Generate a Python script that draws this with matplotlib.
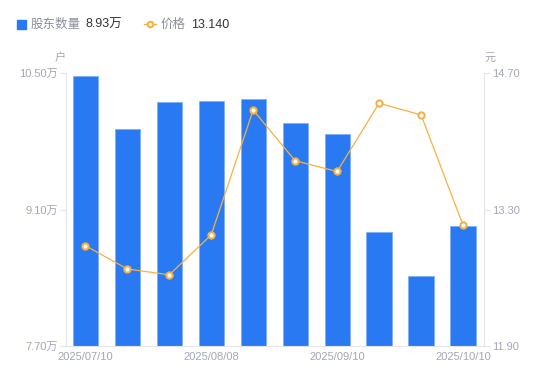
import matplotlib
matplotlib.use('Agg')
import matplotlib.pyplot as plt
from matplotlib.lines import Line2D

plt.rcParams['font.family'] = ['Liberation Sans', 'Noto Sans CJK SC', 'DejaVu Sans']

# ── Data ─────────────────────────────────────────────────────────────
dates   = ["2025/07/10", "2025/07/20", "2025/07/31", "2025/08/08", "2025/08/20",
           "2025/08/29", "2025/09/10", "2025/09/19", "2025/09/30", "2025/10/10"]
holders = [10.47, 9.93, 10.20, 10.21, 10.23, 9.99, 9.87, 8.87, 8.42, 8.93]   # 万户
price   = [12.93, 12.69, 12.63, 13.04, 14.32, 13.80, 13.69, 14.39, 14.27, 13.14]
shown_ticks = [0, 3, 6, 9]

bar_c   = "#2979f2"
line_c  = "#f6b23d"
grey    = "#a3a6b4"
spine_c = "#e3e5ea"

fig = plt.figure(figsize=(5.5, 3.81), dpi=100)
ax = fig.add_axes([66/550, 1-346/381, 418/550, 273/381])
ax2 = ax.twinx()

x = list(range(len(dates)))
ax.bar(x, holders, width=0.6, color=bar_c, edgecolor="#7fb0fa", linewidth=0.6, zorder=2)
ax.set_ylim(7.70, 10.50)
ax.set_xlim(-0.46, len(dates) - 0.5)
ax.set_yticks([7.70, 9.10, 10.50])
ax.set_yticklabels([f"{v:.2f}万" for v in [7.70, 9.10, 10.50]])
ax.set_xticks([x[i] for i in shown_ticks])
ax.set_xticklabels([dates[i] for i in shown_ticks])

ax2.plot(x, price, color=line_c, linewidth=0.9, marker="o", markersize=4.5,
         markerfacecolor="white", markeredgecolor=line_c, markeredgewidth=1.5, zorder=3)
ax2.set_ylim(11.90, 14.70)
ax2.set_yticks([11.90, 13.30, 14.70])
ax2.set_yticklabels([f"{v:.2f}" for v in [11.90, 13.30, 14.70]])

for a in (ax, ax2):
    for s in a.spines.values():
        s.set_visible(False)
    a.tick_params(colors=spine_c, labelcolor=grey, labelsize=8, length=4, width=0.8)
ax.spines["left"].set_visible(True)
ax.spines["bottom"].set_visible(True)
ax2.spines["right"].set_visible(True)
ax.spines["left"].set_color(spine_c)
ax.spines["bottom"].set_color(spine_c)
ax2.spines["right"].set_color(spine_c)
ax.tick_params(axis="x", length=0, pad=4)
ax.tick_params(axis="y", pad=2)
ax2.tick_params(axis="y", pad=2)

# unit labels
fig.text(60/550, 1-61/381, "户", color=grey, fontsize=8, ha="center", va="baseline")
fig.text(490/550, 1-61/381, "元", color=grey, fontsize=8, ha="center", va="baseline")

# legend row
ly = 1 - 28/381
fig.patches.append(plt.Rectangle((17/550, 1-29/381), 9/550, 9/381, transform=fig.transFigure,
                                 color=bar_c, figure=fig))
fig.text(31/550, ly, "股东数量", color="#8c8f9c", fontsize=9, va="baseline")
fig.text(85/550, ly, f"{holders[-1]:.2f}万", color="#333333", fontsize=9, va="baseline")
fig.lines.append(Line2D([144/550, 156/550], [1-24/381, 1-24/381], transform=fig.transFigure,
                        color=line_c, linewidth=1, figure=fig))
fig.lines.append(Line2D([150/550], [1-24/381], transform=fig.transFigure, color=line_c,
                        marker="o", markersize=4, markerfacecolor="white",
                        markeredgewidth=1.5, figure=fig))
fig.text(161/550, ly, "价格", color="#8c8f9c", fontsize=9, va="baseline")
fig.text(191/550, ly, f"{price[-1]:.3f}", color="#333333", fontsize=9, va="baseline")

plt.savefig("out.png", dpi=100)
